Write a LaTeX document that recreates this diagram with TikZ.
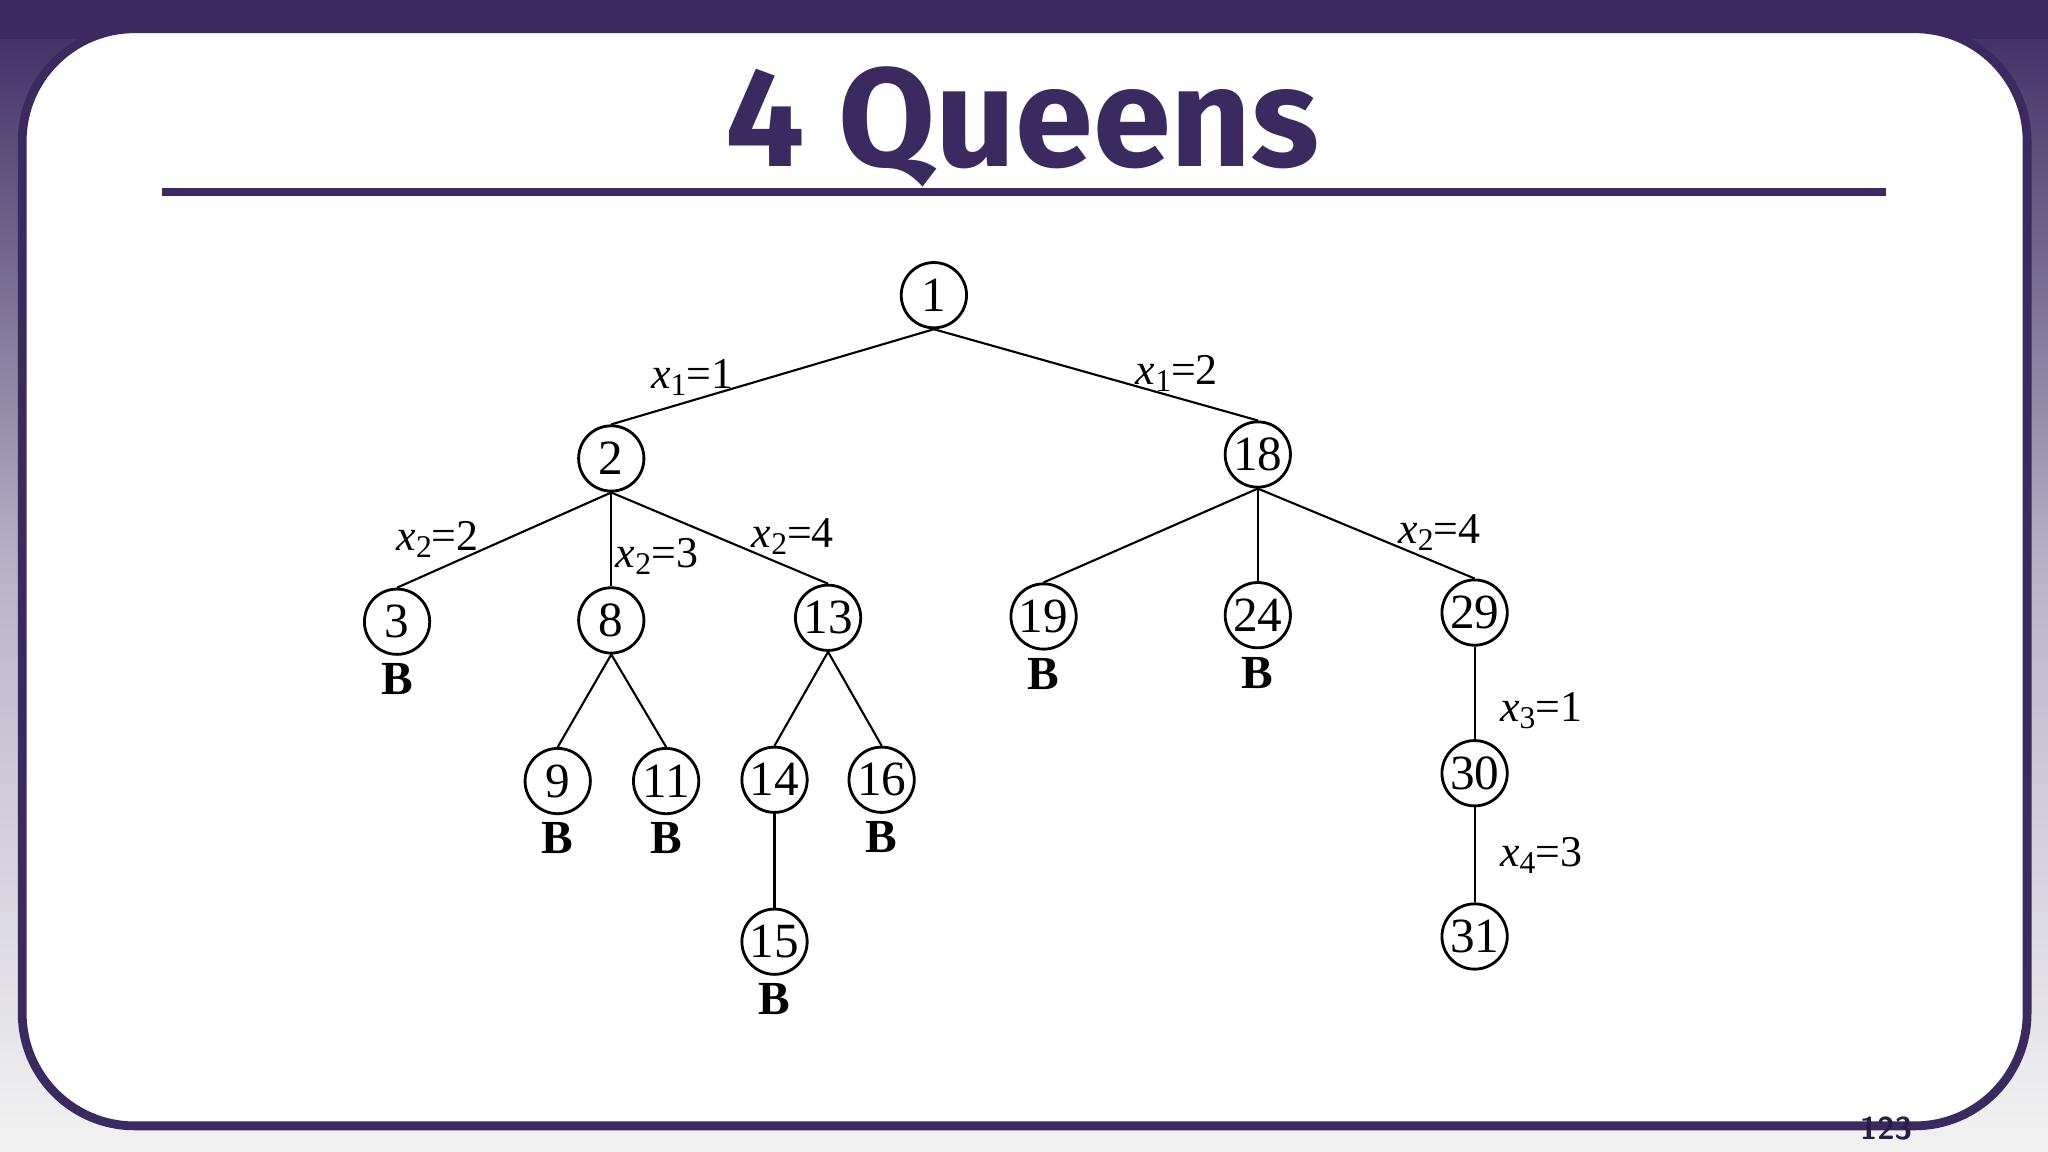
\documentclass[tikz,border=0pt]{standalone}
\usepackage{fontspec}
\usetikzlibrary{calc}
\setmainfont{Liberation Serif}
\newfontfamily\titlefont{Fira Sans}
\definecolor{qpurple}{HTML}{3B2A60}
\newcommand{\xs}[1]{\textit{x}\raisebox{-0.35ex}{\fontsize{9}{9}\selectfont #1}}
\begin{document}
\begin{tikzpicture}[x=0.013061cm,y=-0.013061cm,
  tn/.style={circle,draw,thick,minimum size=50*0.013061cm,inner sep=0pt,font=\fontsize{14}{14}\selectfont},
  ed/.style={draw,line width=0.6pt},
  lb/.style={font=\fontsize{12.5}{12.5}\selectfont,inner sep=0pt},
  bl/.style={font=\bfseries\fontsize{13.5}{13.5}\selectfont,inner sep=0pt}]
\useasboundingbox (0,0) rectangle (1568,882);
\shade[top color=qpurple,bottom color=gray!10,middle color=qpurple!35] (0,0) rectangle (1568,882);
\fill[qpurple] (0,0) rectangle (1568,30);
\draw[qpurple,line width=2.5pt,fill=white,rounded corners=32] (17,22) rectangle (1552,862);
\node[font=\titlefont\bfseries\fontsize{40}{40}\selectfont,text=qpurple] (title) at (783,97) {4 Queens};
\draw[qpurple,line width=2.5pt] (124,147) -- (1444,147);
\node[font=\sffamily\bfseries\fontsize{9}{9}\selectfont,text=qpurple!70!black] (pg) at (1444,864) {123};
\foreach \n/\x/\y in {1/715/226,2/468/351,18/963/348,3/304/476,8/468/475,13/634/473,19/799/472,24/963/471,29/1129/469,9/427/598,11/510/598,14/593/597,16/675/597,15/593/721,30/1129/592,31/1129/717}
  \node[tn] (n\n) at (\x,\y) {\n};
\foreach \a/\b in {1/2,1/18,2/3,2/8,2/13,18/19,18/24,18/29,8/9,8/11,13/14,13/16,14/15,29/30,30/31}
  \draw[ed] (n\a.south) -- (n\b.north);
\foreach \n in {3,19,24,9,11,16,15}
  \node[bl] (b\n) at ($(n\n)+(0,44)$) {B};
\node[lb] (l1) at (530,289) {\xs{1}=1};
\node[lb] (l2) at (901,286) {\xs{1}=2};
\node[lb] (l3) at (335,413) {\xs{2}=2};
\node[lb] (l4) at (503,426) {\xs{2}=3};
\node[lb] (l5) at (607,411) {\xs{2}=4};
\node[lb] (l6) at (1102,408) {\xs{2}=4};
\node[lb] (l7) at (1180,544) {\xs{3}=1};
\node[lb] (l8) at (1180,655) {\xs{4}=3};
\end{tikzpicture}
\end{document}
